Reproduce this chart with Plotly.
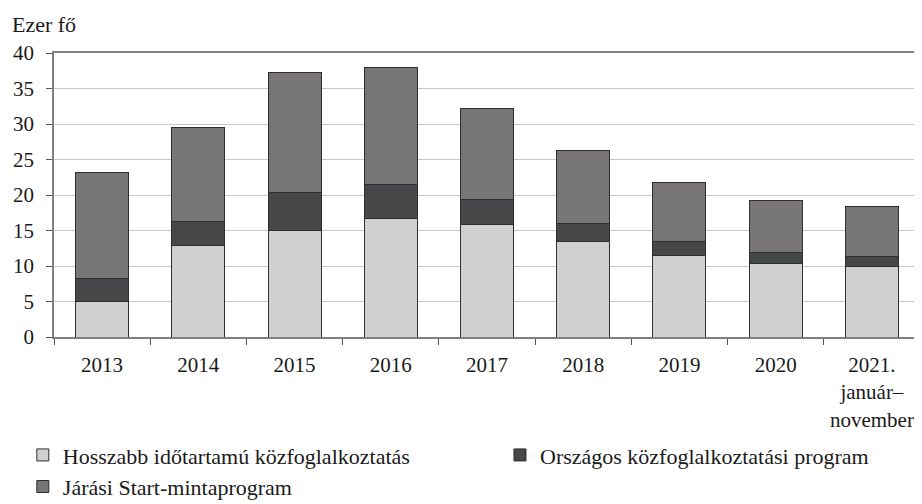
import plotly.graph_objects as go

categories = ["2013", "2014", "2015", "2016", "2017", "2018", "2019", "2020",
              "2021.<br>január–<br>november"]
hosszabb = [5.0, 12.9, 15.0, 16.7, 15.8, 13.5, 11.5, 10.3, 9.9]
orszagos = [3.3, 3.4, 5.4, 4.8, 3.6, 2.5, 1.9, 1.55, 1.5]
jarasi = [14.9, 13.2, 16.9, 16.5, 12.8, 10.2, 8.3, 7.35, 6.95]

series_names = ["Hosszabb időtartamú közfoglalkoztatás",
                "Országos közfoglalkoztatási program",
                "Járási Start-mintaprogram"]
colors = ["#d0d0d2", "#464749", "#777576"]
legend_ids = ["legend", "legend2", "legend"]

FONT = "Liberation Serif, Times New Roman, serif"
TXT = "#1a1a1a"

fig = go.Figure()
for i, (name, vals, col, lg) in enumerate(zip(series_names, [hosszabb, orszagos, jarasi],
                                               colors, legend_ids)):
    fig.add_trace(go.Bar(
        x=categories, y=vals, name=name, legend=lg, legendgroup="g%d" % i,
        marker=dict(color=col, line=dict(color="#2e2e2e", width=1)),
    ))

legend_common = dict(
    orientation="v", xanchor="left", yanchor="top", y=-0.342,
    font=dict(family=FONT, size=22, color=TXT),
    itemwidth=30, tracegroupgap=0, traceorder="grouped",
    bgcolor="rgba(0,0,0,0)", borderwidth=0,
)

# page body has an 8px default margin, so the figure is 8px smaller each way
fig.update_layout(
    barmode="stack",
    bargap=0.45,
    width=914, height=496,
    margin=dict(l=46, r=2, t=45, b=167, autoexpand=False),
    paper_bgcolor="white", plot_bgcolor="white",
    font=dict(family=FONT, size=22, color=TXT),
    showlegend=True,
    legend=dict(x=-0.036, **legend_common),
    legend2=dict(x=0.515, **legend_common),
    xaxis=dict(
        showline=True, linecolor="#808080", linewidth=1.5, mirror=True,
        ticks="outside", ticklen=6, tickcolor="#555555", tickson="boundaries",
        showgrid=False, tickangle=0, ticklabelstandoff=8,
        tickfont=dict(family=FONT, size=21, color=TXT),
    ),
    yaxis=dict(
        range=[0, 40], dtick=5, tick0=0,
        showline=True, linecolor="#808080", linewidth=1.5, mirror=True,
        ticks="outside", ticklen=6, tickcolor="#555555",
        ticklabelstandoff=8,
        showgrid=True, gridcolor="#c8c8c8", gridwidth=1,
        zeroline=False,
        tickfont=dict(family=FONT, size=21, color=TXT),
    ),
    annotations=[dict(
        text="Ezer fő", xref="paper", yref="paper", x=0, y=1,
        xanchor="left", yanchor="middle", xshift=-44, yshift=29,
        showarrow=False, font=dict(family=FONT, size=22, color=TXT),
    )],
)

fig.write_html("out.html")
